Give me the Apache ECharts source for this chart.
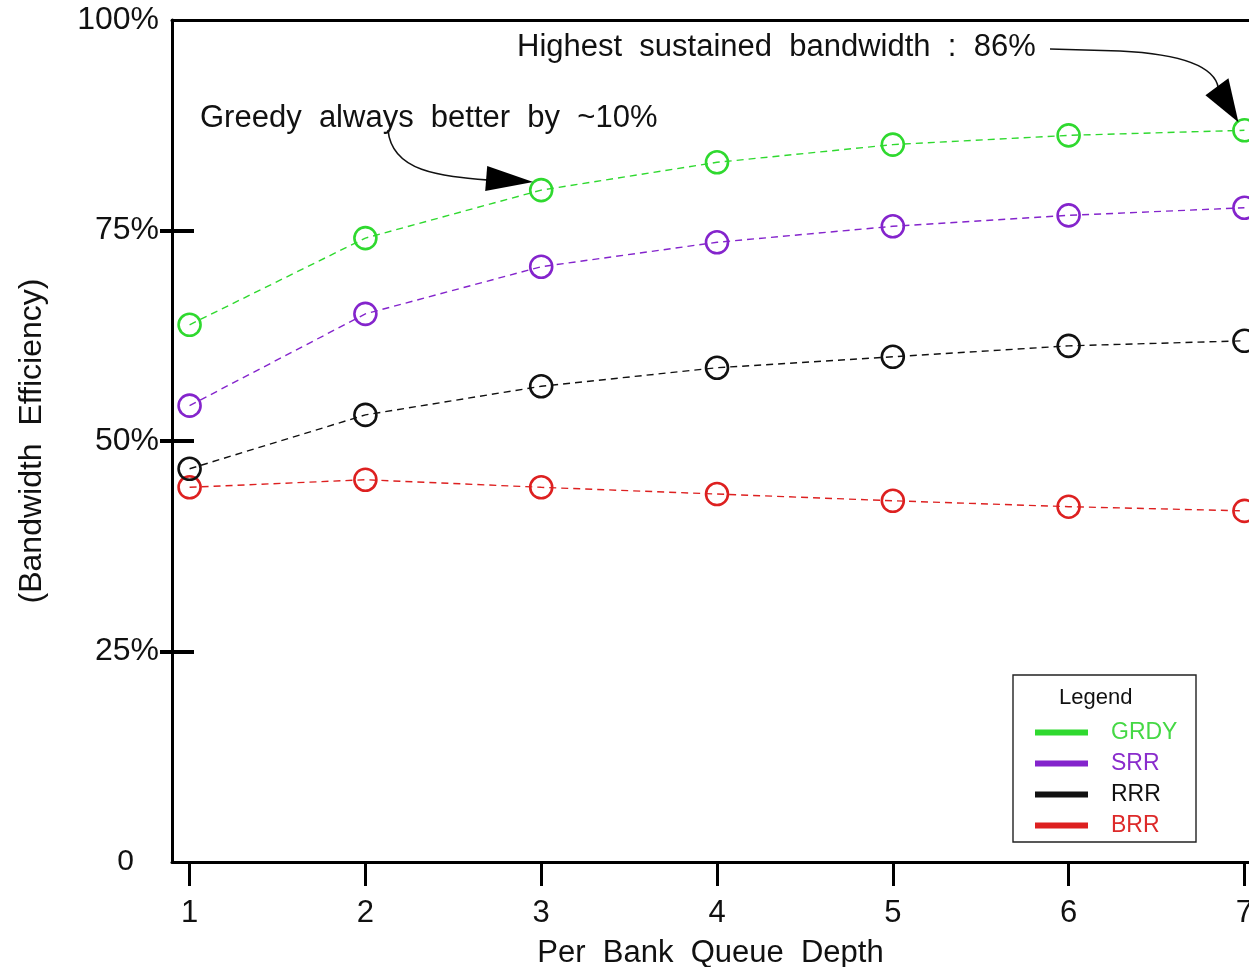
<!DOCTYPE html>
<html>
<head>
<meta charset="utf-8">
<script src="https://cdn.jsdelivr.net/npm/echarts@6/dist/echarts.min.js"></script>
<style>
html,body{margin:0;padding:0;background:#fff;}
#chart{width:1249px;height:967px;}
</style>
</head>
<body>
<div id="chart"></div>
<script>
// ---- data ----
var depths = [1, 2, 3, 4, 5, 6, 7];
var seriesNames = ['GRDY', 'SRR', 'RRR', 'BRR'];
var grdy = [63.8, 74.1, 79.8, 83.1, 85.2, 86.3, 86.9];
var srr  = [54.2, 65.1, 70.7, 73.6, 75.5, 76.8, 77.7];
var rrr  = [46.7, 53.1, 56.5, 58.7, 60.0, 61.3, 61.9];
var brr  = [44.5, 45.4, 44.5, 43.7, 42.9, 42.2, 41.7];
var yTicks = [0, 25, 50, 75, 100];
var yTickLabels = ['0', '25%', '50%', '75%', '100%'];
var xTitle = 'Per  Bank  Queue  Depth';
var yTitle = '(Bandwidth  Efficiency)';
var note1 = 'Greedy  always  better  by  ~10%';
var note2 = 'Highest  sustained  bandwidth  :  86%';

var colors = ['#2fd92f', '#8424cc', '#111111', '#dd2020'];
var textColors = ['#45d845', '#8a2ccc', '#111111', '#dd2a2a'];
var FONT = 'Liberation Sans, Arial, sans-serif';

function pairs(vals){ return depths.map(function(d,i){ return [d, vals[i]]; }); }
var allVals = [grdy, srr, rrr, brr];

var chart = echarts.init(document.getElementById('chart'), null, {renderer:'canvas'});

var series = seriesNames.map(function(n, i){
  return {
    name: n, type: 'line', data: pairs(allVals[i]),
    symbol: 'circle', symbolSize: 22,
    itemStyle: {color: 'rgba(255,255,255,0)', borderColor: colors[i], borderWidth: 2.6},
    lineStyle: {color: colors[i], width: 1.4, type: [7, 5]},
    clip: false, animation: false, z: 3 + (3 - i)
  };
});

var option = {
  backgroundColor: '#fff',
  animation: false,
  grid: {left: 172, top: 20, width: 1077, height: 842, show: false, containLabel: false, outerBoundsMode: 'none'},
  xAxis: [{
    type: 'value', min: 0.9, max: 7.026, position: 'bottom',
    axisLine: {show: true, onZero: false, lineStyle: {color: '#000', width: 3}},
    axisTick: {show: true, length: 24, lineStyle: {color: '#000', width: 3}, customValues: depths},
    axisLabel: {show: true, customValues: depths, margin: 36, color: '#111', fontSize: 31, fontFamily: FONT,
      formatter: function(v){ return String(Math.round(v)); }},
    splitLine: {show: false},
    name: xTitle, nameLocation: 'middle', nameGap: 76,
    nameTextStyle: {color: '#111', fontSize: 31, fontFamily: FONT}
  }, {
    type: 'value', min: 0.9, max: 7.026, position: 'top',
    axisLine: {show: true, onZero: false, lineStyle: {color: '#000', width: 3}},
    axisTick: {show: false}, axisLabel: {show: false}, splitLine: {show: false}
  }],
  yAxis: [{
    type: 'value', min: 0, max: 100, position: 'left',
    axisLine: {show: true, onZero: false, lineStyle: {color: '#000', width: 3}},
    axisTick: {show: true, inside: true, length: 22, lineStyle: {color: '#000', width: 4}, customValues: [25, 50, 75]},
    axisLabel: {show: true, customValues: yTicks, margin: 13, color: '#111', fontSize: 32, fontFamily: FONT,
      formatter: function(v){
        var i = yTicks.indexOf(Math.round(v));
        var t = i >= 0 ? yTickLabels[i] : '';
        return i === 0 ? '{z|' + t + '}' : t;
      },
      rich: {z: {fontSize: 30, fontFamily: FONT, color: '#111', padding: [0, 25, 0, 0]}}
    },
    splitLine: {show: false},
    name: yTitle, nameLocation: 'middle', nameGap: 124, nameRotate: 90,
    nameTextStyle: {color: '#111', fontSize: 32, fontFamily: FONT}
  }, {
    type: 'value', min: 0, max: 100, position: 'left',
    axisLine: {show: false},
    axisTick: {show: true, inside: false, length: 12, lineStyle: {color: '#000', width: 4}, customValues: [25, 50, 75]},
    axisLabel: {show: false}, splitLine: {show: false}
  }],
  legend: {
    orient: 'vertical', left: 1035, top: 721,
    itemWidth: 53, itemHeight: 6, itemGap: 8, icon: 'rect',
    padding: 0,
    textStyle: {fontSize: 23, fontFamily: FONT, padding: [0, 0, 0, 18]},
    data: seriesNames.map(function(n, i){
      return {name: n, icon: 'rect', itemStyle: {color: colors[i], borderWidth: 0}, lineStyle: {width: 0},
              textStyle: {color: textColors[i], fontSize: 23, fontFamily: FONT, padding: [0, 0, 0, 18]}};
    })
  },
  series: series
};
chart.setOption(option);

// annotations, anchored to data points
var tip1 = chart.convertToPixel({xAxisIndex: 0, yAxisIndex: 0}, [depths[2], grdy[2]]);
var tip2 = chart.convertToPixel({xAxisIndex: 0, yAxisIndex: 0}, [depths[6], grdy[6]]);
var t1x = tip1[0] - 8, t1y = tip1[1] - 8;
var t2x = tip2[0] - 6, t2y = tip2[1] - 8;

chart.setOption({
  graphic: [
    {type: 'text', left: 200, top: 103, z: 10,
     style: {text: note1, fontSize: 31, fontFamily: FONT, fill: '#111'}},
    {type: 'text', left: 517, top: 32, z: 10,
     style: {text: note2, fontSize: 31, fontFamily: FONT, fill: '#111'}},
    {type: 'bezierCurve', z: 10,
     shape: {x1: 388, y1: 130, cpx1: 392, cpy1: 172, cpx2: 440, cpy2: 176, x2: t1x - 44, y2: t1y - 2},
     style: {stroke: '#111', lineWidth: 1.6, fill: null}},
    {type: 'polygon', z: 10,
     shape: {points: [[t1x - 46, t1y - 16], [t1x - 48, t1y + 9], [t1x, t1y]]},
     style: {fill: '#000'}},
    {type: 'polyline', z: 10,
     shape: {points: [[1050, 49], [1120, 51]]},
     style: {stroke: '#111', lineWidth: 1.6, fill: null}},
    {type: 'bezierCurve', z: 10,
     shape: {x1: 1120, y1: 51, cpx1: 1180, cpy1: 54, cpx2: 1215, cpy2: 66, x2: t2x - 20, y2: t2y - 34},
     style: {stroke: '#111', lineWidth: 1.6, fill: null}},
    {type: 'polygon', z: 10,
     shape: {points: [[t2x - 33, t2y - 27], [t2x - 10, t2y - 44], [t2x, t2y]]},
     style: {fill: '#000'}},
    {type: 'rect', z: 1,
     shape: {x: 1013, y: 675, width: 183, height: 167},
     style: {fill: '#fff', stroke: '#222', lineWidth: 1.4}},
    {type: 'text', left: 1059, top: 687, z: 10,
     style: {text: 'Legend', fontSize: 22, fontFamily: FONT, fill: '#111'}}
  ]
});
</script>
</body>
</html>
